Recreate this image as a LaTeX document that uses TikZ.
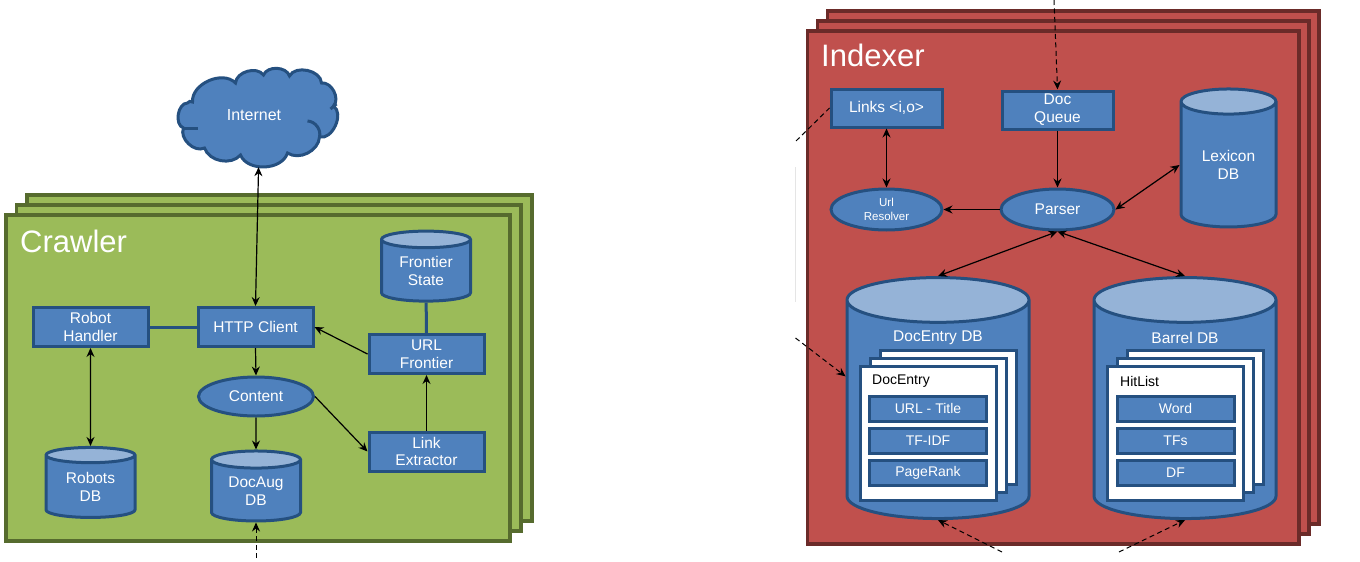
\documentclass[tikz,border=0pt]{standalone}
\usepackage{fontspec}
\setmainfont{Liberation Sans}
\usetikzlibrary{arrows.meta,shapes.geometric}
\definecolor{blueFill}{HTML}{4F81BD}
\definecolor{blueLine}{HTML}{255080}
\definecolor{blueLid}{HTML}{95B3D7}
\definecolor{greenFill}{HTML}{9BBB59}
\definecolor{greenLine}{HTML}{566B2E}
\definecolor{redFill}{HTML}{C0504D}
\definecolor{redLine}{HTML}{6B2B29}
\tikzset{
    >={Stealth[length=9pt,width=8pt,inset=3pt]},
    link/.style={black,line width=1.2pt},
    wire/.style={blueLine,line width=3pt},
    remote/.style={black,line width=1pt,dash pattern=on 5pt off 3.5pt},
    box/.style={rectangle,draw=blueLine,fill=blueFill,line width=3pt,text=white,
      font=\fontsize{15.5}{17.8}\selectfont,align=center,inner sep=0pt,
      minimum width=115pt,minimum height=39pt},
    oval/.style={box,ellipse},
    store/.style={cylinder,shape border rotate=90,draw=blueLine,line width=3pt,text=white,
      font=\fontsize{15.5}{17.8}\selectfont,align=center,inner sep=0pt,
      cylinder uses custom fill,cylinder body fill=blueFill,cylinder end fill=blueLid},
    smallstore/.style={store,minimum width=89pt,minimum height=70pt,aspect=0.31},
    bigstore/.style={store,minimum width=182pt,minimum height=241pt,aspect=0.5},
    page/.style={draw=blueLine,fill=white,line width=3pt},
    field/.style={box,font=\fontsize{14}{16}\selectfont,minimum width=117pt,minimum height=25pt},
    title/.style={text=white,font=\fontsize{31}{34}\selectfont,anchor=base west,inner sep=0pt},
}
\begin{document}
\begin{tikzpicture}[x=1pt,y=-1pt]
    \useasboundingbox (0,0) rectangle (1360,562);
    \fill[white] (0,0) rectangle (1360,562);
    \draw[black!10,line width=0.7pt] (795,167) -- (795,302);
    % Crawler
    \foreach \i in {2,1,0}
      \draw[greenLine,fill=greenFill,line width=3.5pt] (6+10.5*\i,215-10*\i) rectangle (510+11*\i,541-10*\i);
    \node[title] (crawler) at (20,252) {Crawler};
    \draw[blueLine,fill=blueFill,line width=3pt,xshift=1.5pt] (191,102)
      to[bend left=70] (234,83) to[bend left=70] (262,75) to[bend left=70] (288,76)
      to[bend left=75] (320,83) to[bend left=70] (332,106) to[bend left=80] (318,137)
      to[bend left=60] (286,153) to[bend left=70] (239,155) to[bend left=60] (203,148)
      to[bend left=70] (182,128) to[bend left=80] (186,103) to[bend left=50] cycle;
    \draw[blueLine,line width=3pt,xshift=1.5pt] (306,121) to[bend left=50] (318,137);
    \draw[blueLine,line width=3pt,xshift=1.5pt] (329,109) -- (335,104);
    \draw[blueLine,line width=3pt,xshift=1.5pt] (182,128) -- (196,128);
    \node[text=white,font=\fontsize{16}{18}\selectfont,minimum width=152pt,minimum height=104pt,inner sep=0pt] (internet) at (254,115) {Internet};
    \node[box] (robot) at (90.5,327) {Robot\\Handler};
    \node[box] (http) at (255.5,327) {HTTP Client};
    \node[box] (frontier) at (426.5,354) {URL\\Frontier};
    \node[box] (extractor) at (426.5,451.5) {Link\\Extractor};
    \node[oval] (content) at (256,396.5) {Content};
    \node[smallstore] (robots) at (90.5,487) {Robots\\DB};
    \node[smallstore] (docaug) at (256,491) {DocAug\\DB};
    \node[smallstore] (state) at (426,271) {Frontier\\State};
    \coordinate (feed) at (256,558);
    \draw[wire] (robot) -- (http);
    \draw[wire] (state) -- (frontier);
    \draw[link,<->] (internet.275) -- (http.north);
    \draw[link,<->] (robot.south) -- (robots.north);
    \draw[link,->] (http.south) -- (content.north);
    \draw[link,->] (content.south) -- (docaug.north);
    \draw[link,->] (content.east) -- (extractor.west);
    \draw[link,->] (extractor.north) -- (frontier.south);
    \draw[link,->] (frontier.west) -- (http.east);
    \draw[remote,->] (feed) -- (docaug.south);
    % Indexer
    \foreach \i in {2,1,0}
      \draw[redLine,fill=redFill,line width=3.5pt] (807.5+10*\i,31-10*\i) rectangle (1299+10*\i,544-10*\i);
    \node[title] (indexer) at (821,66) {Indexer};
    \node[box,minimum width=111pt,minimum height=38pt] (links) at (886.5,108) {Links <i,o>};
    \node[box,minimum width=111pt,minimum height=38pt] (queue) at (1057.5,110) {Doc\\Queue};
    \node[oval,minimum width=111pt,minimum height=41pt,font=\fontsize{11.5}{14}\selectfont] (resolver) at (886.5,209.5) {Url\\Resolver};
    \node[oval,minimum width=113pt,minimum height=41pt] (parser) at (1057.5,209.5) {Parser};
    \node[store,minimum width=95pt,minimum height=138pt,aspect=0.47] (lexicon) at (1228.5,165) {Lexicon\\DB};
    \node[bigstore] (docentry) at (938,410) {\phantom{DocEntry DB}};
    \node[bigstore] (barrel) at (1185,410) {\phantom{DocEntry DB}};
    \node[text=white,font=\fontsize{15.5}{17}\selectfont] (doclabel) at (938,338) {DocEntry DB};
    \node[text=white,font=\fontsize{15.5}{17}\selectfont] (barlabel) at (1185,338) {Barrel DB};
    \foreach \i in {2,1,0} {
      \draw[page] (860+10*\i,366-8*\i) rectangle (996+10*\i,500-8*\i);
      \draw[page] (1107+10*\i,366-8*\i) rectangle (1243+10*\i,500-8*\i);
    }
    \node[anchor=west,inner sep=0pt,font=\fontsize{14}{16}\selectfont] (docname) at (872,381) {DocEntry};
    \node[anchor=west,inner sep=0pt,font=\fontsize{14}{16}\selectfont] (hitname) at (1120,381) {HitList};
    \node[field] (url) at (928,408.5) {URL - Title};
    \node[field] (tfidf) at (928,440.5) {TF-IDF};
    \node[field] (rank) at (928,472.5) {PageRank};
    \node[field] (word) at (1175.5,408.5) {Word};
    \node[field] (tfs) at (1175.5,440.5) {TFs};
    \node[field] (df) at (1175.5,472.5) {DF};
    \coordinate (queuein) at (1054,0);
    \coordinate (linksout) at (796,141);
    \coordinate (docin) at (795.5,338);
    \coordinate (docin2) at (1002,552);
    \coordinate (barrelin) at (1119,552);
    \draw[remote,->] (queuein) -- (queue.north);
    \draw[remote] (linksout) -- (links.west);
    \draw[remote,->] (docin) -- (docentry.160);
    \draw[remote,->] (docin2) -- (docentry.south);
    \draw[remote,->] (barrelin) -- (barrel.south);
    \draw[link,<->] (links.south) -- (resolver.north);
    \draw[link,->] (queue.south) -- (parser.north);
    \draw[link,->] (parser.west) -- (resolver.east);
    \draw[link,<->] (parser.east) -- (lexicon.west);
    \draw[link,<->] (parser.south) -- (docentry.north);
    \draw[link,<->] (parser.south) -- (barrel.north);
\end{tikzpicture}
\end{document}
